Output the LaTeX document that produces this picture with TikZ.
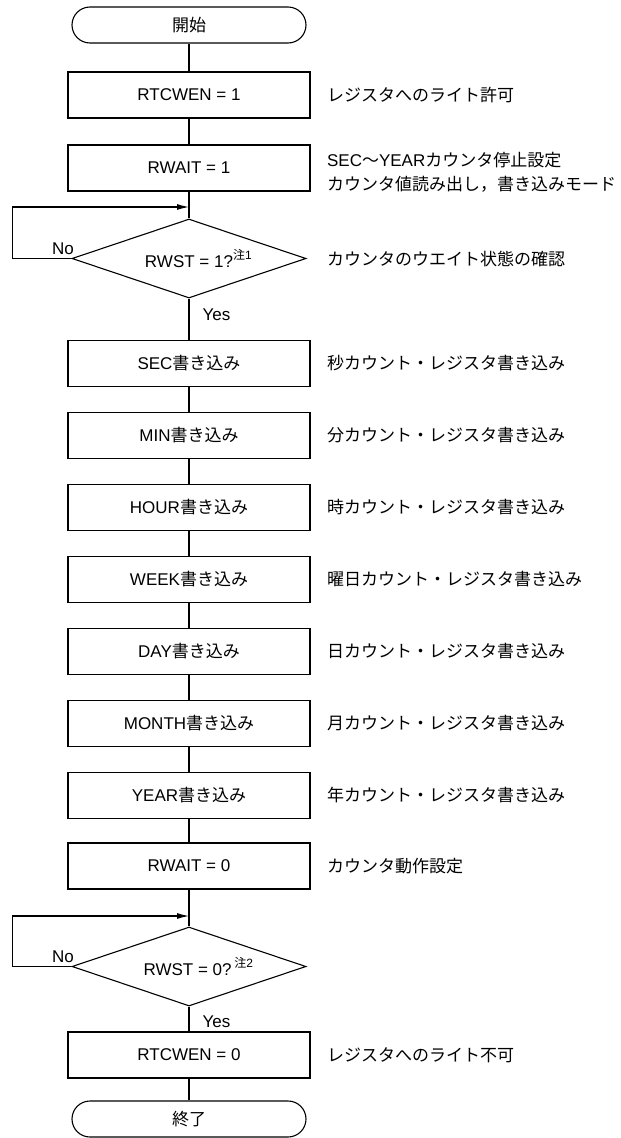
\documentclass[tikz,border=0pt]{standalone}
\usepackage{fontspec}
\setmainfont{Liberation Sans}
\newfontfamily\jpfont{Noto Sans CJK JP}
\usepackage{tikz}
\usetikzlibrary{positioning,arrows.meta,shapes.geometric}

\newcommand{\jp}[1]{{\jpfont #1}}
\newcommand{\chu}[1]{\rlap{\raisebox{8pt}{\fontsize{12}{12}\selectfont\jp{注}#1}}}

\begin{document}
\begin{tikzpicture}[x=1pt, y=-1pt, line width=1.1pt,
    every node/.style={font=\fontsize{17}{24}\selectfont},
    term/.style={draw, rounded corners=18pt, minimum width=234pt, minimum height=36pt, inner sep=0pt},
    proc/.style={draw, minimum width=242pt, minimum height=46pt, inner sep=0pt},
    dec/.style={draw, diamond, aspect=3, minimum width=234pt, minimum height=79pt, inner sep=0pt},
    note/.style={align=left, inner sep=0pt, font=\fontsize{17}{24}\selectfont\jpfont},
    lbl/.style={inner sep=0pt},
    arr/.style={-{Latex[length=12pt, width=6pt]}}
  ]
  \useasboundingbox (0,0) rectangle (621,1138);

  \node[term] (start) at (189,25)   {\jp{開始}};
  \node[proc] (wen1)  at (189,95)   {RTCWEN = 1};
  \node[proc] (wait1) at (189,168)  {RWAIT = 1};
  \node[dec]  (chk1)  at (189,258.5) {RWST = 1?\chu{1}};
  \node[proc] (sec)   at (189,363.5) {SEC\jp{書き込み}};
  \node[proc] (min)   at (189,435.5) {MIN\jp{書き込み}};
  \node[proc] (hour)  at (189,507.5) {HOUR\jp{書き込み}};
  \node[proc] (week)  at (189,579.5) {WEEK\jp{書き込み}};
  \node[proc] (day)   at (189,651.5) {DAY\jp{書き込み}};
  \node[proc] (month) at (189,723.5) {MONTH\jp{書き込み}};
  \node[proc] (year)  at (189,795.5) {YEAR\jp{書き込み}};
  \node[proc] (wait0) at (189,866)  {RWAIT = 0};
  \node[dec]  (chk0)  at (189,966.5) {RWST = 0?\,\chu{2}};
  \node[proc] (wen0)  at (189,1055) {RTCWEN = 0};
  \node[term] (stop)  at (189,1119) {\jp{終了}};

  \coordinate (in1) at (189,207);
  \coordinate (in0) at (189,916);

  % main flow
  \draw (start) -- (wen1);
  \draw (wen1) -- (wait1);
  \draw (wait1) -- (chk1);
  \draw (chk1) -- (sec);
  \draw (sec) -- (min);
  \draw (min) -- (hour);
  \draw (hour) -- (week);
  \draw (week) -- (day);
  \draw (day) -- (month);
  \draw (month) -- (year);
  \draw (year) -- (wait0);
  \draw (wait0) -- (chk0);
  \draw (chk0) -- (wen0);
  \draw (wen0) -- (stop);

  % wait loops
  \draw[arr] (chk1.west) -- ++(-59pt,0) |- (in1);
  \draw[arr] (chk0.west) -- ++(-59pt,0) |- (in0);

  \node[lbl, anchor=base east] (no1)  at ([xshift=3pt, yshift=4pt]chk1.west) {No};
  \node[lbl, anchor=north west] (yes1) at ([xshift=13pt, yshift=-10pt]chk1.south) {Yes};
  \node[lbl, anchor=base east] (no0)  at ([xshift=3pt, yshift=4pt]chk0.west) {No};
  \node[lbl, anchor=north west] (yes0) at ([xshift=13pt, yshift=-9pt]chk0.south) {Yes};

  % comments on the right
  \node[note, right=16pt of wen1]  (n1) {レジスタへのライト許可};
  \node[note, right=16pt of wait1, yshift=-4pt] (n2)
    {{\rmfamily SEC}～{\rmfamily YEAR}カウンタ停止設定\\カウンタ値読み出し，書き込みモード};
  \node[note, right=20pt of chk1]  (n3) {カウンタのウエイト状態の確認};
  \node[note, right=16pt of sec]   (n4) {秒カウント・レジスタ書き込み};
  \node[note, right=16pt of min]   (n5) {分カウント・レジスタ書き込み};
  \node[note, right=16pt of hour]  (n6) {時カウント・レジスタ書き込み};
  \node[note, right=16pt of week]  (n7) {曜日カウント・レジスタ書き込み};
  \node[note, right=16pt of day]   (n8) {日カウント・レジスタ書き込み};
  \node[note, right=16pt of month] (n9) {月カウント・レジスタ書き込み};
  \node[note, right=16pt of year]  (n10) {年カウント・レジスタ書き込み};
  \node[note, right=16pt of wait0] (n11) {カウンタ動作設定};
  \node[note, right=16pt of wen0]  (n12) {レジスタへのライト不可};
\end{tikzpicture}
\end{document}
